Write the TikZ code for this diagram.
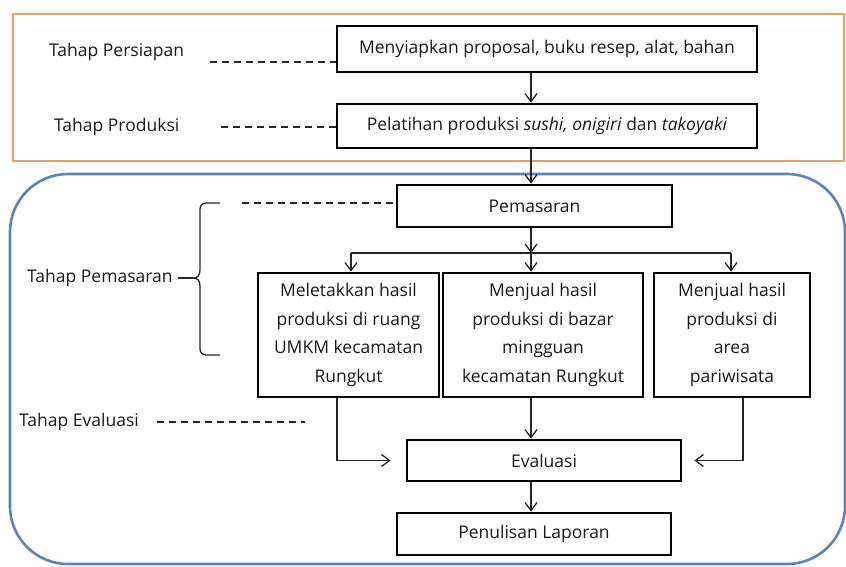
\documentclass[tikz,border=0pt]{standalone}
\usepackage{fontspec}
\setmainfont{Open Sans}
\usetikzlibrary{arrows.meta,calc}
\definecolor{frameorange}{RGB}{228,162,95}
\definecolor{frameblue}{RGB}{92,132,182}
\begin{document}
\begin{tikzpicture}[x=1pt,y=-1pt,
  every node/.style={font=\fontsize{17.5}{28.5}\selectfont, text=black!90},
  box/.style={draw=black, line width=2.8pt, fill=white, inner sep=0pt, align=center},
  lbl/.style={inner sep=0pt, anchor=west},
  conn/.style={draw=black!85, line width=1.3pt},
  arr/.style={conn, -{Straight Barb[length=8pt,width=12pt,line width=1.3pt]}},
  dsh/.style={draw=black!85, line width=1.3pt, dash pattern=on 7pt off 5pt}]
\useasboundingbox (0,0) rectangle (846,566);
% frames
\draw[frameorange, line width=2.8pt] (13,14) rectangle (844,161);
\draw[frameblue, line width=2.6pt, rounded corners=58pt] (10,174) rectangle (845,564);
% coordinates
\coordinate (main) at (531,0);
\coordinate (j) at (531,253);
\coordinate (jl) at (351,253);
\coordinate (jr) at (731,253);
\coordinate (cl) at (337,0);
\coordinate (cr) at (743,0);
% boxes
\node[box, minimum width=420pt, minimum height=46pt] (b1) at (547,49) {Menyiapkan proposal, buku resep, alat, bahan};
\node[box, minimum width=420pt, minimum height=44pt] (b2) at (547,126) {Pelatihan produksi \textit{sushi, onigiri} dan \textit{takoyaki}};
\node[box, minimum width=275pt, minimum height=42pt] (pem) at (534.5,206) {Pemasaran};
\node[box, minimum width=181pt, minimum height=124pt] (bL) at (348.5,335) {Meletakkan hasil\\produksi di ruang\\UMKM kecamatan\\Rungkut};
\node[box, minimum width=200pt, minimum height=124pt] (bM) at (543,335) {Menjual hasil\\produksi di bazar\\mingguan\\kecamatan Rungkut};
\node[box, minimum width=156pt, minimum height=124pt] (bR) at (732,335) {Menjual hasil\\produksi di\\area\\pariwisata};
\node[box, minimum width=274pt, minimum height=41pt] (ev) at (544,460.5) {Evaluasi};
\node[box, minimum width=274pt, minimum height=42pt] (pl) at (534,534) {Penulisan Laporan};
% labels
\node[lbl] (l1) at (49,52) {Tahap Persiapan};
\node[lbl] (l2) at (54,127) {Tahap Produksi};
\node[lbl] (l3) at (27,278) {Tahap Pemasaran};
\node[lbl] (l4) at (19,422) {Tahap Evaluasi};
% dashed leaders
\coordinate (d1) at (210,62);
\coordinate (d2) at (221,127);
\coordinate (d3) at (242,203);
\coordinate (d4) at (157,422);
\coordinate (d4e) at (305,422);
\draw[dsh] (d1) -- (d1 -| b1.west);
\draw[dsh] (d2) -- (d2 -| b2.west);
\draw[dsh] (d3) -- (d3 -| pem.west);
\draw[dsh] (d4) -- (d4e);
% brace
\draw[conn] (l3.east) ++(5,0) -- (193,278);
\draw[conn, rounded corners=6pt] (220,203) -- (200,203) -- (200,240);
\draw[conn] (200,240) -- (200,270) .. controls (200,276) and (197,278) .. (193,278);
\draw[conn] (193,278) .. controls (197,278) and (200,280) .. (200,286) -- (200,320);
\draw[conn, rounded corners=6pt] (200,320) -- (200,355) -- (220,355);
% connectors
\draw[arr] (b1.south -| main) -- (b2.north -| main);
\draw[arr] (b2.south -| main) -- (pem.north -| main);
\draw[arr] (pem.south -| main) -- (j);
\draw[conn] (jl) -- (jr);
\draw[arr] (jl) -- (jl |- bL.north);
\draw[arr] (j) -- (j |- bM.north);
\draw[arr] (jr) -- (jr |- bR.north);
\draw[arr, shorten >=15pt] (bL.south -| cl) |- (ev.west);
\draw[arr] (bM.south -| main) -- (ev.north -| main);
\draw[arr, shorten >=12pt] (bR.south -| cr) |- (ev.east);
\draw[arr] (ev.south -| main) -- (pl.north -| main);
\end{tikzpicture}
\end{document}
